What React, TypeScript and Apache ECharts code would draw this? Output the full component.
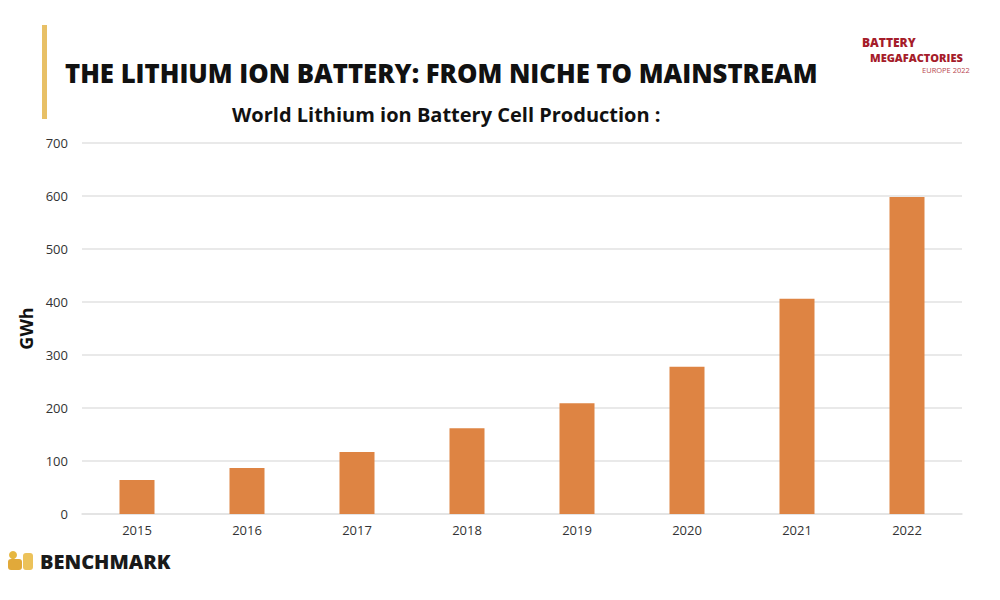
import React, { useEffect, useRef } from "react";
import * as echarts from "echarts";

const years = ["2015", "2016", "2017", "2018", "2019", "2020", "2021", "2022"];
const production = [64, 87, 117, 162, 209, 278, 406, 598];
const yTicks = { min: 0, max: 700, interval: 100 };

const titleText = "THE LITHIUM ION BATTERY: FROM NICHE TO MAINSTREAM";
const subtitleText = "World Lithium ion Battery Cell Production :";
const yAxisName = "GWh";

const FONT = "'Open Sans', 'Noto Sans', sans-serif";

export default function App() {
  const ref = useRef<HTMLDivElement>(null);
  useEffect(() => {
    const chart = echarts.init(ref.current!, null, { renderer: "svg" });
    chart.setOption({
      animation: false,
      backgroundColor: "#ffffff",
      grid: { left: 82, right: 38, top: 143, bottom: 86 },
      xAxis: {
        type: "category",
        data: years,
        axisLine: { show: true, lineStyle: { color: "#e2e2e2", width: 1.5 } },
        axisTick: { show: false },
        axisLabel: { color: "#333", fontSize: 13, fontFamily: FONT, margin: 9 },
      },
      yAxis: {
        type: "value",
        min: yTicks.min,
        max: yTicks.max,
        interval: yTicks.interval,
        name: yAxisName,
        nameLocation: "middle",
        nameGap: 42,
        nameRotate: 90,
        nameTextStyle: { color: "#111", fontSize: 18, fontWeight: "bold", fontFamily: FONT },
        axisLine: { show: false },
        axisTick: { show: false },
        axisLabel: { color: "#333", fontSize: 13, fontFamily: FONT, margin: 14 },
        splitLine: { lineStyle: { color: "#e2e2e2", width: 1.5 } },
      },
      series: [
        {
          type: "bar",
          data: production,
          barWidth: 35,
          itemStyle: { color: "#de8443" },
        },
      ],
      graphic: [
        { type: "rect", shape: { x: 42, y: 25, width: 5, height: 94 }, style: { fill: "#e8c066" } },
        {
          type: "text",
          left: 65,
          top: 60,
          style: { text: titleText, fill: "#111", font: `800 25.7px ${FONT}` },
        },
        {
          type: "text",
          left: 232,
          top: 104,
          style: { text: subtitleText, fill: "#111", font: `bold 20px ${FONT}` },
        },
        {
          type: "text",
          left: 862,
          top: 36,
          style: { text: "BATTERY", fill: "#a51c2a", font: `900 12px ${FONT}` },
        },
        {
          type: "text",
          left: 870,
          top: 52,
          style: { text: "MEGAFACTORIES", fill: "#a51c2a", font: `900 11px ${FONT}` },
        },
        {
          type: "text",
          left: 922,
          top: 66,
          style: { text: "EUROPE 2022", fill: "#b8474f", font: `7.5px ${FONT}` },
        },
        { type: "circle", shape: { cx: 13, cy: 555, r: 4 }, style: { fill: "#e6b740" } },
        { type: "rect", shape: { x: 8, y: 559, width: 14, height: 11, r: 3 }, style: { fill: "#e1a93a" } },
        { type: "rect", shape: { x: 23, y: 553, width: 10, height: 17, r: 3 }, style: { fill: "#ecc25a" } },
        {
          type: "text",
          left: 40,
          top: 551,
          style: { text: "BENCHMARK", fill: "#1a1a1a", font: `800 20px ${FONT}` },
        },
      ],
    });
    return () => chart.dispose();
  }, []);
  return <div ref={ref} style={{ width: 1000, height: 600, position: "fixed", left: 0, top: 0 }} />;
}
